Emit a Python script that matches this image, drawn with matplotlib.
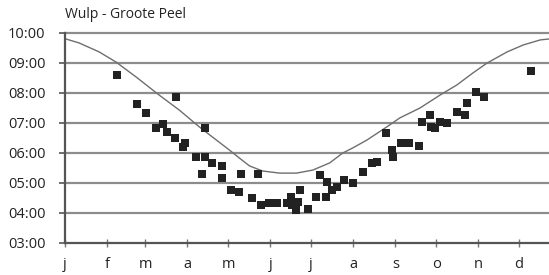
import numpy as np
from matplotlib import pyplot as plt

plt.rcParams['font.family'] = ['Open Sans', 'DejaVu Sans']

# month labels (dutch initials) and day-of-year of month starts
months = ['j', 'f', 'm', 'a', 'm', 'j', 'j', 'a', 's', 'o', 'n', 'd']
month_days = [0, 31, 59, 90, 120, 151, 181, 212, 243, 273, 304, 334]

# sunrise curve (day of year, hour)
sun_day = [0.7, 10.3, 25.1, 37.6, 52.4, 69.3, 84.1, 98.8, 111.4, 120.9, 128.3,
           135.7, 145.3, 157.8, 170.4, 182.2, 194.7, 204.3, 211.7, 222.0, 236.7,
           246.3, 261.1, 275.8, 288.3, 300.1, 310.5, 325.2, 337.0, 349.6, 356.0]
sun_hour = [9.80, 9.67, 9.37, 9.03, 8.53, 7.93, 7.43, 6.87, 6.43, 6.10, 5.83,
            5.57, 5.40, 5.33, 5.33, 5.43, 5.67, 6.00, 6.17, 6.43, 6.87,
            7.17, 7.50, 7.93, 8.27, 8.67, 9.00, 9.37, 9.60, 9.77, 9.80]

# observations (day of year, hour)
obs_day = [38.3, 81.9, 53.1, 59.7, 67.1, 72.3, 75.2, 81.1, 88.5, 87.0, 103.2,
           96.6, 103.2, 108.4, 115.8, 101.0, 115.8, 129.1, 142.3, 122.4, 128.3,
           137.2, 143.8, 150.4, 155.6, 163.0, 165.9, 166.7, 171.1, 172.6, 169.6,
           178.5, 184.4, 191.7, 187.3, 192.5, 196.2, 199.9, 205.0, 211.7, 219.0,
           225.7, 229.4, 236.0, 240.4, 241.2, 247.1, 253.0, 260.3, 262.5, 268.4,
           269.2, 272.1, 275.8, 281.0, 288.3, 294.2, 295.7, 302.4, 308.3, 342.9]
obs_hour = [8.60, 7.87, 7.63, 7.33, 6.83, 6.97, 6.70, 6.50, 6.33, 6.20, 6.83,
            5.87, 5.87, 5.67, 5.57, 5.30, 5.17, 5.30, 5.30, 4.77, 4.70,
            4.50, 4.27, 4.33, 4.33, 4.33, 4.53, 4.27, 4.37, 4.77, 4.10,
            4.13, 4.53, 4.53, 5.27, 5.03, 4.77, 4.87, 5.10, 5.00, 5.37,
            5.67, 5.70, 6.67, 6.10, 5.87, 6.33, 6.33, 6.23, 7.03, 7.27,
            6.87, 6.83, 7.03, 7.00, 7.37, 7.27, 7.67, 8.03, 7.87, 8.73]

hours = list(range(3, 11))
hour_labels = ['%02d:00' % h for h in hours]

fig = plt.figure(figsize=(5.49, 2.75), dpi=100)
ax = fig.add_axes([65 / 549, 1 - 243 / 275, 1 - 65 / 549, (243 - 33) / 275])

for h in hours[1:]:
    ax.axhline(h, color='#8c8c8c', lw=1.6, zorder=1, clip_on=False)

ax.plot(sun_day, sun_hour, color='#6e6e6e', lw=1.0, zorder=2)
ax.scatter(obs_day, obs_hour, marker='s', s=34, color='#222222', linewidths=0, zorder=3)

ax.set_xlim(0, 356)
ax.set_ylim(3, 10)
ax.set_xticks(month_days)
ax.set_xticklabels(months)
ax.set_yticks(hours)
ax.set_yticklabels(hour_labels)

for s in ['top', 'right']:
    ax.spines[s].set_visible(False)
for s in ['left', 'bottom']:
    ax.spines[s].set_color('#555555')
    ax.spines[s].set_linewidth(1.6)

ax.tick_params(axis='y', length=4, width=1.2, color='#555555', pad=10,
               labelsize=10.5, labelcolor='#222222')
ax.tick_params(axis='x', direction='inout', length=6, width=1.0, color='#777777',
               pad=7, labelsize=10.5, labelcolor='#222222')

fig.text(65 / 549, 1 - 14 / 275, 'Wulp - Groote Peel', fontsize=10, color='#222222',
         ha='left', va='center')

fig.savefig('out.png', dpi=100)
